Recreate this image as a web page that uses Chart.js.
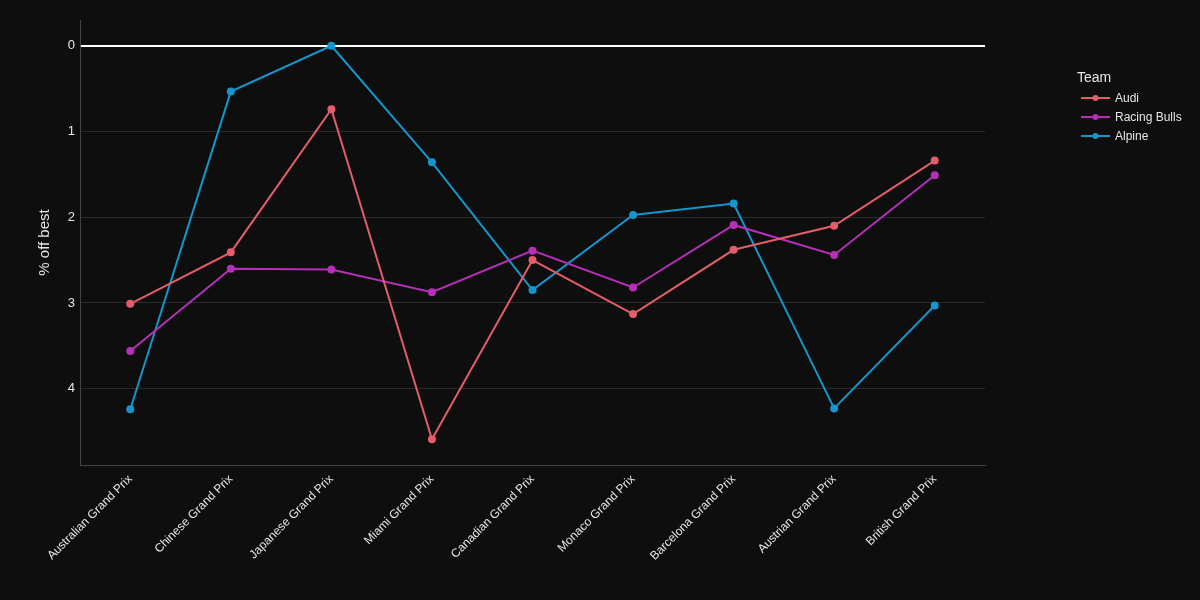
<!DOCTYPE html>
<html>
<head>
<meta charset="utf-8">
<script src="https://cdn.jsdelivr.net/npm/chart.js@4/dist/chart.umd.min.js"></script>
<style>
  html, body { margin: 0; padding: 0; background: #0e0e0e; }
  canvas { display: block; }
</style>
</head>
<body>
<canvas id="chart" width="1200" height="600"></canvas>
<script>
// data
var races = ['Australian Grand Prix', 'Chinese Grand Prix', 'Japanese Grand Prix', 'Miami Grand Prix',
    'Canadian Grand Prix', 'Monaco Grand Prix', 'Barcelona Grand Prix', 'Austrian Grand Prix', 'British Grand Prix'];
var audi = [3.01, 2.41, 0.74, 4.59, 2.50, 3.13, 2.38, 2.10, 1.34];
var racingBulls = [3.56, 2.60, 2.61, 2.875, 2.39, 2.82, 2.09, 2.44, 1.51];
var alpine = [4.24, 0.535, 0.0, 1.36, 2.85, 1.975, 1.84, 4.23, 3.03];
var yTicks = [0, 1, 2, 3, 4];

var teams = ['Audi', 'Racing Bulls', 'Alpine'];
var colors = ['#e35d6a', '#b62fb8', '#1496cc'];
var values = [audi, racingBulls, alpine];

var datasets = teams.map(function (name, i) {
    return {
        label: name,
        data: values[i],
        borderColor: colors[i],
        backgroundColor: colors[i],
        borderWidth: 2,
        pointRadius: 3,
        pointHoverRadius: 4,
        tension: 0
    };
});

// legend drawn like the reference (title + line/dot markers)
var sideLegend = {
    id: 'sideLegend',
    afterDraw: function (chart) {
        var ctx = chart.ctx;
        ctx.save();
        ctx.textBaseline = 'middle';
        ctx.textAlign = 'left';
        ctx.fillStyle = '#e6e6e6';
        ctx.font = '14px "Liberation Sans", Arial, sans-serif';
        ctx.fillText('Team', 1077, 78);
        ctx.font = '12px "Liberation Sans", Arial, sans-serif';
        chart.data.datasets.forEach(function (ds, i) {
            var y = 98 + i * 19;
            ctx.strokeStyle = ds.borderColor;
            ctx.lineWidth = 2;
            ctx.beginPath();
            ctx.moveTo(1081, y);
            ctx.lineTo(1110, y);
            ctx.stroke();
            ctx.fillStyle = ds.borderColor;
            ctx.beginPath();
            ctx.arc(1095.5, y, 3, 0, Math.PI * 2);
            ctx.fill();
            ctx.fillStyle = '#e6e6e6';
            ctx.fillText(ds.label, 1115, y + 0.5);
        });
        ctx.restore();
    }
};

var bgPlugin = {
    id: 'bg',
    beforeDraw: function (chart) {
        var ctx = chart.ctx;
        ctx.save();
        ctx.fillStyle = '#0e0e0e';
        ctx.fillRect(0, 0, chart.width, chart.height);
        ctx.restore();
    }
};

new Chart(document.getElementById('chart').getContext('2d'), {
    type: 'line',
    data: { labels: races, datasets: datasets },
    plugins: [bgPlugin, sideLegend],
    options: {
        responsive: false,
        animation: false,
        layout: { padding: { top: 20, right: 215, left: 0, bottom: 0 } },
        plugins: {
            legend: { display: false },
            tooltip: { enabled: false }
        },
        scales: {
            x: {
                type: 'category',
                offset: true,
                grid: { display: false, drawTicks: false },
                border: { display: true, color: '#444444', width: 1 },
                ticks: {
                    color: '#e6e6e6',
                    font: { family: '"Liberation Sans", Arial, sans-serif', size: 12 },
                    minRotation: 45,
                    maxRotation: 45,
                    padding: 7,
                    autoSkip: false
                },
                afterFit: function (scale) { scale.height = 135; }
            },
            y: {
                reverse: true,
                min: -0.3,
                max: 4.89,
                afterBuildTicks: function (scale) {
                    scale.ticks = yTicks.map(function (v) { return { value: v }; });
                },
                afterFit: function (scale) { scale.width = 80; },
                grid: {
                    drawTicks: false,
                    color: function (c) { return c.tick && c.tick.value === 0 ? '#ffffff' : '#2a2a2a'; },
                    lineWidth: function (c) { return c.tick && c.tick.value === 0 ? 2 : 1; }
                },
                border: { display: true, color: '#444444', width: 1 },
                ticks: {
                    color: '#e6e6e6',
                    font: { family: '"Liberation Sans", Arial, sans-serif', size: 13 },
                    padding: 5
                },
                title: {
                    display: true,
                    text: '% off best',
                    color: '#e6e6e6',
                    font: { family: '"Liberation Sans", Arial, sans-serif', size: 15 },
                    padding: { top: 36, bottom: 0 }
                }
            }
        }
    }
});
</script>
</body>
</html>
